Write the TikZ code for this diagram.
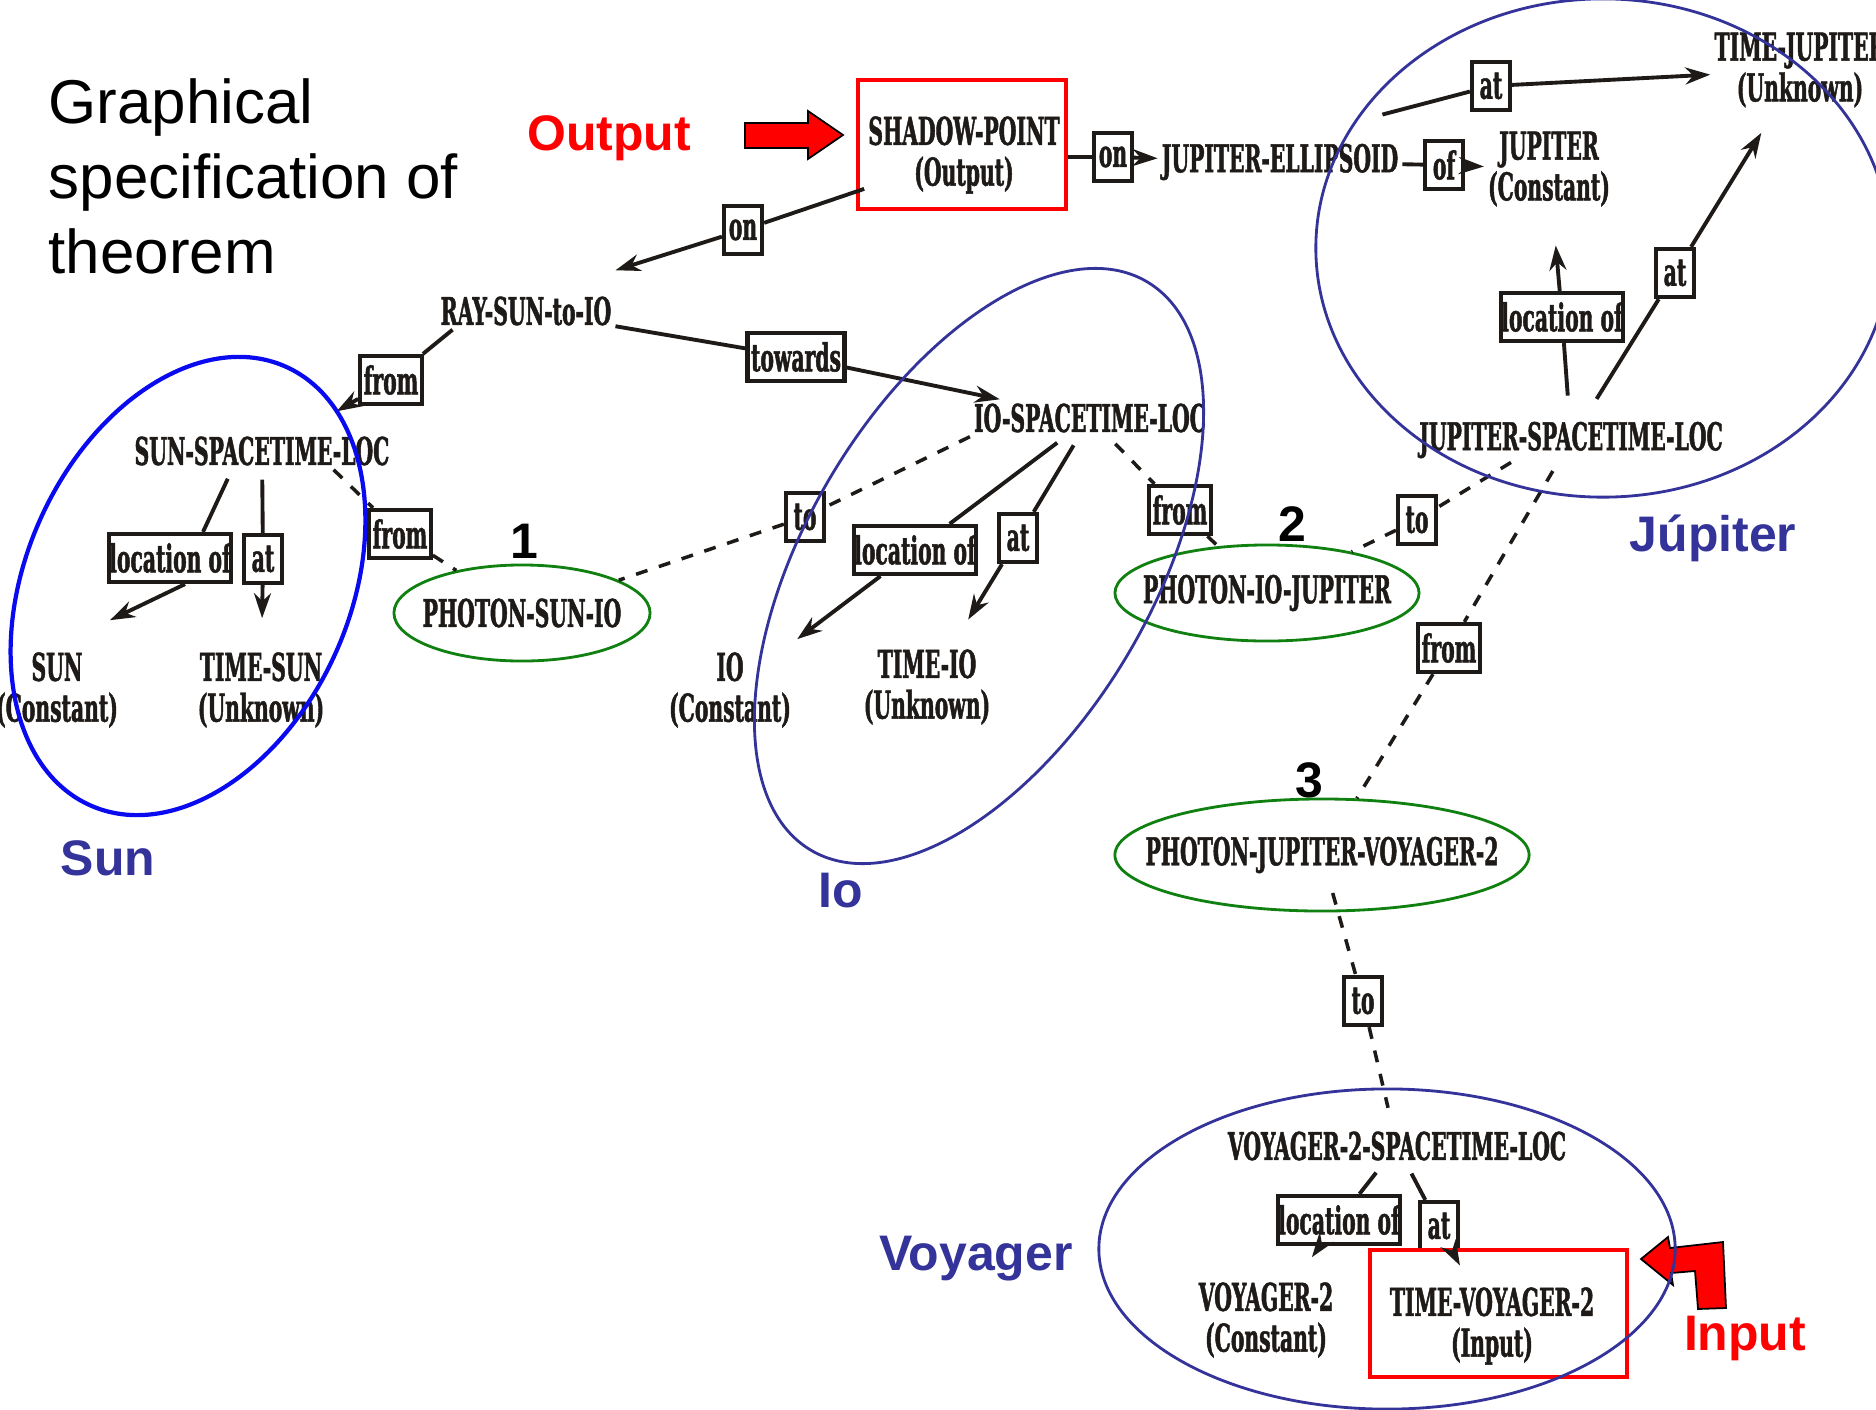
\documentclass[tikz,border=0pt]{standalone}
\usepackage{fontspec}
\setmainfont{Liberation Sans}
\newfontfamily\dfont{DejaVu Serif}[FakeStretch=0.53,FakeBold=1.2]
\usetikzlibrary{arrows.meta,shapes.geometric,calc}
\definecolor{navy}{HTML}{333399}
\definecolor{brightblue}{HTML}{0A0AF0}
\definecolor{ovalgreen}{HTML}{108010}
\definecolor{outred}{HTML}{FF0000}
\definecolor{ink}{HTML}{1E1A18}
\tikzset{
  lbl/.style={font=\dfont\bfseries\fontsize{10.9}{11.6}\selectfont, align=center, inner sep=1pt, text=ink},
  rel/.style={draw=ink, text=ink, line width=1.2pt, font=\dfont\bfseries\fontsize{10.9}{11.6}\selectfont, inner xsep=0.035cm, inner ysep=0.05cm, minimum width=0.38cm, minimum height=0.48cm},
  relw/.style={rel, inner xsep=0.005cm},
  conn/.style={line width=1.1pt, ink},
  arr/.style={conn, -{Stealth[length=0.25cm,width=0.17cm]}},
  dsh/.style={line width=1pt, ink, dash pattern=on 0.12cm off 0.12cm},
  photon/.style={lbl, ellipse, draw=ovalgreen, line width=0.8pt, inner xsep=-0.3cm, inner ysep=-0.1cm},
  redbox/.style={draw=outred, line width=1.1pt, inner sep=0pt},
  grp/.style={draw=navy, line width=0.8pt},
  ttl/.style={font=\fontsize{17.6}{21}\selectfont, anchor=base west, inner sep=0pt},
  tag/.style={font=\bfseries\fontsize{14.2}{17}\selectfont, inner sep=0pt},
}
\begin{document}
\begin{tikzpicture}[x=0.01cm, y=-0.01cm]
\useasboundingbox (0,0) rectangle (1876,1409);
\fill[white] (0,0) rectangle (1876,1409);
\clip (0,0) rectangle (1876,1409);

% title
\node[ttl] (t1) at (48,123) {Graphical};
\node[ttl] (t2) at (48,198) {specification of};
\node[ttl] (t3) at (48,273) {theorem};

% labels
\node[tag, text=outred] (outlbl) at (609,138) {Output};
\node[tag, text=outred] (inlbl) at (1745,1338) {Input};
\node[tag, text=navy] (sunlbl) at (108,858) {Sun};
\node[tag, text=navy] (iolbl) at (841,891) {Io};
\node[tag, text=navy] (juplbl) at (1713,538) {Júpiter};
\node[tag, text=navy] (voylbl) at (976,1259) {Voyager};
\node[tag] (n1) at (524,541) {1};
\node[tag] (n2) at (1292,524) {2};
\node[tag] (n3) at (1309,780) {3};

% red arrows
\draw[fill=outred, draw=black, line width=0.5pt] (745,123) -- (808,123) -- (808,111) -- (843,135) -- (808,159) -- (808,148) -- (745,148) -- cycle;
\draw[fill=outred, draw=black, line width=0.5pt] (1641,1259) -- (1668,1237) -- (1670,1248) -- (1723,1242) -- (1726,1308) -- (1698,1309) -- (1695,1271) -- (1671,1273) -- (1673,1285) -- cycle;

% concept nodes
\node[lbl] (shadow) at (964,155) {SHADOW-POINT\\(Output)};
\node[redbox, minimum width=2.08cm, minimum height=1.29cm] (outbox) at (962,144.5) {};
\node[rel] (on1) at (743,230) {on};
\node[lbl] (ray) at (526,311) {RAY-SUN-to-IO};
\node[rel] (on2) at (1113,157) {on};
\node[lbl] (jell) at (1280,162) {JUPITER-ELLIPSOID};
\node[rel] (ofbox) at (1444,165) {of};
\node[lbl] (jup) at (1549,169) {JUPITER\\(Constant)};
\node[lbl] (tj) at (1800,70) {TIME-JUPITER\\(Unknown)};
\node[rel] (at3) at (1491,86) {at};
\node[lbl] (jsl) at (1571,440) {JUPITER-SPACETIME-LOC};
\node[relw] (locJ) at (1562,317) {location of};
\node[rel] (atJ) at (1675,273) {at};
\node[rel] (fromR) at (391,380) {from};
\node[rel] (towards) at (796,357) {towards};
\node[lbl] (ioloc) at (1090,418) {IO-SPACETIME-LOC};
\node[lbl] (sunloc) at (262,451) {SUN-SPACETIME-LOC};
\node[relw] (locS) at (170,558) {location of};
\node[rel] (atS) at (263,559) {at};
\node[rel] (fromS) at (400,534) {from};
\node[lbl] (sun) at (57,690) {SUN\\(Constant)};
\node[lbl] (timesun) at (261,690) {TIME-SUN\\(Unknown)};
\node[photon, minimum width=2.56cm, minimum height=0.96cm] (p1) at (522,613) {PHOTON-SUN-IO};
\node[rel] (toI) at (805,517) {to};
\node[relw] (locI) at (915,550) {location of};
\node[rel] (atI) at (1018,538) {at};
\node[rel] (fromI) at (1180,510) {from};
\node[lbl] (io) at (730,690) {IO\\(Constant)};
\node[lbl] (timeio) at (927,687) {TIME-IO\\(Unknown)};
\node[photon, minimum width=3.04cm, minimum height=0.96cm] (p2) at (1267,593) {PHOTON-IO-JUPITER};
\node[rel] (toJ) at (1417,520) {to};
\node[rel] (fromJ) at (1449,648) {from};
\node[photon, minimum width=4.14cm, minimum height=1.12cm] (p3) at (1322,855) {PHOTON-JUPITER-VOYAGER-2};
\node[rel] (toV) at (1363,1001) {to};
\node[lbl] (vloc) at (1397,1146) {VOYAGER-2-SPACETIME-LOC};
\node[relw] (locV) at (1339,1220) {location of};
\node[rel] (atV) at (1439,1226) {at};
\node[lbl] (voy) at (1266,1320) {VOYAGER-2\\(Constant)};
\node[lbl] (tv) at (1492,1326) {TIME-VOYAGER-2\\(Input)};
\node[redbox, minimum width=2.57cm, minimum height=1.27cm] (inbox) at (1498.5,1313.5) {};

% connectors
\draw[conn] (shadow) -- (on1);
\draw[arr] (on1) -- ($(ray.north east)+(0,-22)$);
\draw[conn] (outbox.east |- on2) -- (on2);
\draw[arr] (on2) -- (jell);
\draw[conn] (jell) -- (ofbox);
\draw[arr] (ofbox) -- (jup);
\draw[conn] ([shift={(-0.2cm,0.25cm)}]jell.north east) -- (at3);
\draw[arr] (at3) -- (tj);
\draw[conn, shorten <=0.22cm] (jsl) -- (locJ);
\draw[arr, shorten >=0.35cm] (locJ) -- (jup);
\draw[conn, shorten <=0.22cm] (jsl) -- (atJ);
\draw[arr, shorten >=0.25cm] (atJ) -- (tj);
\draw[conn] ([xshift=0.16cm]ray.south west) -- (fromR);
\draw[arr] (fromR) -- ($(sunloc.north east)+(-57,-21)$);
\draw[conn] (ray) -- (towards);
\draw[arr] (towards) -- (ioloc);
\draw[conn, shorten <=0.1cm] ([xshift=-0.3cm]sunloc.south) -- ([xshift=0.33cm]locS.north);
\draw[arr] ([xshift=0.15cm]locS.south) -- ($(sun.north)+(53,-28)$);
\draw[conn, shorten <=0.1cm] (sunloc) -- (atS);
\draw[arr, shorten >=0.3cm] (atS) -- (timesun);
\draw[dsh] ([xshift=-0.6cm]sunloc.south east) -- (fromS);
\draw[dsh] (fromS) -- (p1);
\draw[dsh] (ioloc.south west) -- (toI);
\draw[dsh] (toI) -- (p1);
\draw[conn, shorten <=0.1cm] (ioloc) -- (locI);
\draw[arr, shorten >=0.15cm] (locI) -- (io);
\draw[conn, shorten <=0.1cm] (ioloc) -- (atI);
\draw[arr, shorten >=0.3cm] (atI) -- (timeio);
\draw[dsh, shorten <=0.1cm] (ioloc) -- (fromI);
\draw[dsh] (fromI) -- (p2);
\draw[dsh] ([xshift=-0.6cm]jsl.south) -- (toJ);
\draw[dsh] (toJ) -- (p2);
\draw[dsh, shorten <=0.1cm] (jsl) -- (fromJ);
\draw[dsh] (fromJ) -- (p3);
\draw[dsh, shorten <=-0.2cm] (p3) -- (toV);
\draw[dsh, shorten >=0.2cm] (toV) -- (vloc);
\draw[conn, shorten <=0.1cm] (vloc) -- (locV);
\draw[arr, shorten >=0.26cm] (locV) -- (voy);
\draw[conn, shorten <=0.1cm] (vloc) -- (atV);
\draw[arr, shorten >=0.2cm] (atV) -- (tv);

% group outlines
\draw[draw=brightblue, line width=1.2pt, rotate around={-24:(188,586)}] (188,586) ellipse [x radius=1.62cm, y radius=2.40cm];
\draw[grp, rotate around={-30.6:(979,566)}] (979,566) ellipse [x radius=1.73cm, y radius=3.30cm];
\draw[grp] (1603,248) ellipse [x radius=2.87cm, y radius=2.49cm];
\draw[grp] (1387,1249) ellipse [x radius=2.88cm, y radius=1.60cm];
\end{tikzpicture}
\end{document}
